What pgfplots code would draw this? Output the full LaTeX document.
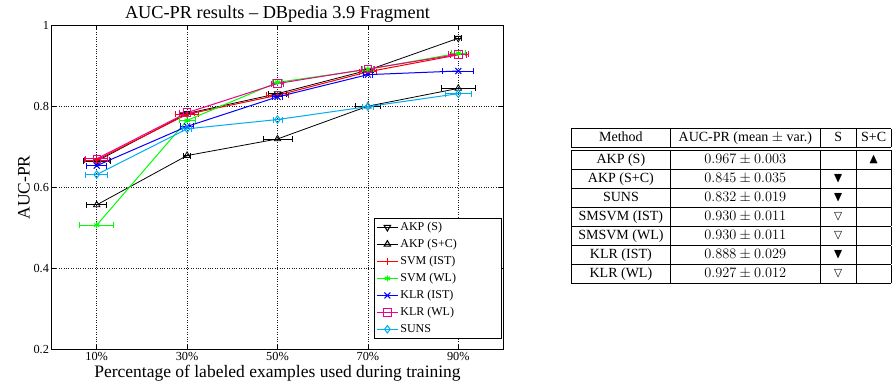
\documentclass[border=0pt]{standalone}
\usepackage{pgfplots}
\pgfplotsset{compat=1.18}
\usepackage{amssymb}
\usepackage{array}
\usepackage{fontspec}
\setmainfont{Liberation Serif}
\newcolumntype{C}[1]{>{\centering\arraybackslash}p{#1}}
\begin{document}
\begin{tikzpicture}[x=1pt,y=1pt]
\path[use as bounding box] (0,0) rectangle (894,385);
\begin{axis}[
  at={(51.5pt,35.7pt)}, anchor=south west,
  scale only axis, width=452pt, height=323.6pt,
  xmin=0.5, xmax=5.5, ymin=0.2, ymax=1,
  xtick={1,2,3,4,5}, xticklabels={10\%,30\%,50\%,70\%,90\%},
  ytick={0.2,0.4,0.6,0.8,1}, yticklabels={0.2,0.4,0.6,0.8,1},
  tick align=inside, major tick length=4.5pt,
  grid=major, grid style={black!90, line width=0.45pt, dash pattern=on 0.6pt off 1.8pt},
  axis line style={line width=0.9pt},
  tick style={black, line width=0.5pt},
  /pgf/number format/assume math mode=true,
  tick label style={font=\fontsize{12.3}{13}\selectfont},
  xticklabel style={yshift=1pt},
  yticklabel style={xshift=1pt},
  title={AUC-PR results -- DBpedia 3.9 Fragment},
  title style={font=\fontsize{18.3}{20}\selectfont, yshift=-6pt},
  xlabel={Percentage of labeled examples used during training},
  ylabel={AUC-PR},
  label style={font=\fontsize{17.5}{20}\selectfont},
  xlabel style={yshift=1.5pt},
  ylabel style={yshift=-3pt},
  legend style={at={(rel axis cs:0.996,0.034)}, anchor=south east,
    font=\fontsize{12}{14}\selectfont, draw=black, line width=0.6pt,
    row sep=3.2pt, inner sep=2pt},
  legend cell align=left,
  legend image code/.code={\draw[mark repeat=2,mark phase=2,line width=1.05pt] plot coordinates {(0pt,0pt) (10.5pt,0pt) (21pt,0pt)};},
  every axis plot/.append style={line width=1pt, mark size=3.7pt},
  error bars/x dir=both, error bars/x explicit,
  error bars/error bar style={line width=0.9pt},
  error bars/error mark options={rotate=90, mark size=3pt, line width=0.9pt},
]
\addplot[black, line width=0.8pt, mark=triangle, mark options={rotate=180}] coordinates {
 (1,0.665) +- (0.15,0) (2,0.783) +- (0.08,0) (3,0.832) +- (0.10,0) (4,0.890) +- (0.06,0) (5,0.969) +- (0.04,0)};
\addlegendentry{\makebox[97pt][l]{AKP (S)}}
\addplot[black, line width=0.8pt, mark=triangle] coordinates {
 (1,0.557) +- (0.11,0) (2,0.679) +- (0.04,0) (3,0.720) +- (0.16,0) (4,0.801) +- (0.14,0) (5,0.845) +- (0.19,0)};
\addlegendentry{AKP (S+C)}
\addplot[color=red, mark=+] coordinates {
 (1,0.668) +- (0.14,0) (2,0.781) +- (0.13,0) (3,0.828) +- (0.12,0) (4,0.886) +- (0.09,0) (5,0.928) +- (0.09,0)};
\addlegendentry{SVM (IST)}
\addplot[color=green, mark=asterisk, mark size=3pt] coordinates {
 (1,0.507) +- (0.19,0) (2,0.766) +- (0.09,0) (3,0.860) +- (0.06,0) (4,0.892) +- (0.06,0) (5,0.932) +- (0.08,0)};
\addlegendentry{SVM (WL)}
\addplot[color=blue, mark=x, mark size=4.2pt] coordinates {
 (1,0.654) +- (0.11,0) (2,0.751) +- (0.07,0) (3,0.824) +- (0.06,0) (4,0.879) +- (0.05,0) (5,0.888) +- (0.17,0)};
\addlegendentry{KLR (IST)}
\addplot[color=magenta, mark=square] coordinates {
 (1,0.671) +- (0.12,0) (2,0.785) +- (0.08,0) (3,0.857) +- (0.07,0) (4,0.893) +- (0.07,0) (5,0.929) +- (0.11,0)};
\addlegendentry{KLR (WL)}
\addplot[color=cyan, mark=diamond] coordinates {
 (1,0.632) +- (0.12,0) (2,0.745) +- (0.05,0) (3,0.768) +- (0.05,0) (4,0.800) +- (0.06,0) (5,0.832) +- (0.14,0)};
\addlegendentry{SUNS}
\end{axis}
\node[inner sep=0pt] at (731,179) {\fontsize{14}{16}\selectfont
\renewcommand{\arraystretch}{1.17}\setlength{\tabcolsep}{2pt}%
\begin{tabular}{|C{95pt}|C{145pt}|C{32pt}|C{30pt}|}
\hline
Method & AUC-PR (mean $\pm$ var.) & S & S+C \\ \hline\hline
AKP (S) & $0.967 \pm 0.003$ & & $\blacktriangle$ \\ \hline
AKP (S+C) & $0.845 \pm 0.035$ & $\blacktriangledown$ & \\ \hline
SUNS & $0.832 \pm 0.019$ & $\blacktriangledown$ & \\ \hline
SMSVM (IST) & $0.930 \pm 0.011$ & $\triangledown$ & \\ \hline
SMSVM (WL) & $0.930 \pm 0.011$ & $\triangledown$ & \\ \hline
KLR (IST) & $0.888 \pm 0.029$ & $\blacktriangledown$ & \\ \hline
KLR (WL) & $0.927 \pm 0.012$ & $\triangledown$ & \\ \hline
\end{tabular}};
\end{tikzpicture}
\end{document}
